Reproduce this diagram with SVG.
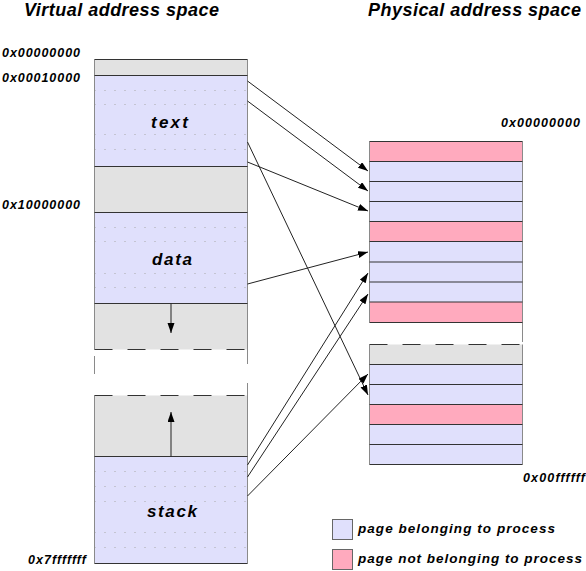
<svg xmlns="http://www.w3.org/2000/svg" width="586" height="571" viewBox="0 0 586 571">
<defs>
<style>
.t{font-family:"Liberation Sans",Arial,sans-serif;font-weight:bold;font-style:italic;fill:#000}
.title{font-size:18px}
.addr{font-size:12.5px}
.seg{font-size:17px}
.leg{font-size:13.5px}
.blue{fill:#e0e0fc}
.pink{fill:#ffaabe}
.gray{fill:#e2e2e2}
.vb{stroke:#8a8a8a;stroke-width:1;fill:none}
.hb{stroke:#333;stroke-width:1;fill:none}
.dash{stroke:#333;stroke-width:1;stroke-dasharray:18 15;fill:none}
.dots{stroke:#a8a8a8;stroke-width:1;stroke-dasharray:1 9;fill:none}
.conn{stroke:#222;stroke-width:1;fill:none;marker-end:url(#ah)}
</style>
<marker id="ah" markerUnits="userSpaceOnUse" markerWidth="11" markerHeight="8" refX="10" refY="3.5" orient="auto">
<path d="M0,0 L10,3.5 L0,7 z" fill="#000"/>
</marker>
</defs>
<rect width="586" height="571" fill="#fff"/>

<g id="titles">
<text class="t title" x="24" y="16" textLength="195" lengthAdjust="spacing">Virtual address space</text>
<text class="t title" x="368" y="16" textLength="213" lengthAdjust="spacing">Physical address space</text>
</g>

<g id="virtual-labels">
<text class="t addr" x="2" y="57" textLength="78" lengthAdjust="spacing">0x00000000</text>
<text class="t addr" x="2" y="82" textLength="78" lengthAdjust="spacing">0x00010000</text>
<text class="t addr" x="2" y="209" textLength="78" lengthAdjust="spacing">0x10000000</text>
<text class="t addr" x="28" y="564" textLength="58" lengthAdjust="spacing">0x7fffffff</text>
</g>

<g id="virtual-space">
<g id="v-reserved">
<rect class="gray" x="94.5" y="59.5" width="153" height="16"/>
</g>
<g id="v-text">
<rect class="blue" x="94.5" y="75.5" width="153" height="91"/>
<path class="dots" d="M94.5,90.5H247.5M94.5,104.5H247.5M94.5,134.5H247.5M94.5,149.5H247.5"/>
<text class="t seg" x="151" y="128" textLength="37" lengthAdjust="spacing">text</text>
</g>
<g id="v-gap">
<rect class="gray" x="94.5" y="166.5" width="153" height="46"/>
</g>
<g id="v-data">
<rect class="blue" x="94.5" y="212.5" width="153" height="91"/>
<path class="dots" d="M94.5,227.5H247.5M94.5,241.5H247.5M94.5,273.5H247.5M94.5,287.5H247.5"/>
<text class="t seg" x="152" y="265" textLength="40" lengthAdjust="spacing">data</text>
</g>
<g id="v-heap">
<rect class="gray" x="94.5" y="303.5" width="153" height="46"/>
</g>
<g id="v-stackgrow">
<rect class="gray" x="94.5" y="395.5" width="153" height="61"/>
</g>
<g id="v-stack">
<rect class="blue" x="94.5" y="456.5" width="153" height="107"/>
<path class="dots" d="M94.5,471.5H247.5M94.5,486.5H247.5M94.5,501.5H247.5M94.5,532.5H247.5M94.5,547.5H247.5"/>
<text class="t seg" x="147" y="517" textLength="50" lengthAdjust="spacing">stack</text>
</g>
<path class="vb" d="M94.5,59.5V349.5M94.5,356V374M94.5,395.5V563.5M247.5,59.5V364M247.5,383V563.5"/>
<path class="hb" d="M94.5,59.5H247.5M94.5,75.5H247.5M94.5,166.5H247.5M94.5,212.5H247.5M94.5,303.5H247.5M94.5,456.5H247.5M94.5,563.5H247.5"/>
<path class="dash" d="M94.5,349.5H247.5M94.5,395.5H247.5"/>
</g>

<g id="physical-labels">
<text class="t addr" x="501" y="127" textLength="79" lengthAdjust="spacing">0x00000000</text>
<text class="t addr" x="523" y="482" textLength="62" lengthAdjust="spacing">0x00ffffff</text>
</g>

<g id="physical-space">
<rect class="pink" x="369.5" y="141.5" width="153" height="20"/>
<rect class="blue" x="369.5" y="161.5" width="153" height="20"/>
<rect class="blue" x="369.5" y="181.5" width="153" height="20"/>
<rect class="blue" x="369.5" y="201.5" width="153" height="20"/>
<rect class="pink" x="369.5" y="221.5" width="153" height="20"/>
<rect class="blue" x="369.5" y="241.5" width="153" height="20.5"/>
<rect class="blue" x="369.5" y="262" width="153" height="20"/>
<rect class="blue" x="369.5" y="282" width="153" height="20"/>
<rect class="pink" x="369.5" y="302" width="153" height="20.5"/>
<rect class="gray" x="369.5" y="344.5" width="153" height="20"/>
<rect class="blue" x="369.5" y="364.5" width="153" height="20"/>
<rect class="blue" x="369.5" y="384.5" width="153" height="20"/>
<rect class="pink" x="369.5" y="404.5" width="153" height="20"/>
<rect class="blue" x="369.5" y="424.5" width="153" height="20"/>
<rect class="blue" x="369.5" y="444.5" width="153" height="20"/>
<path class="vb" d="M369.5,141.5V322.5M522.5,141.5V342M369.5,344.5V464.5M522.5,344.5V464.5"/>
<path class="hb" d="M369.5,141.5H522.5M369.5,161.5H522.5M369.5,181.5H522.5M369.5,201.5H522.5M369.5,221.5H522.5M369.5,241.5H522.5M369.5,262H522.5M369.5,282H522.5M369.5,302H522.5M369.5,322.5H522.5M369.5,364.5H522.5M369.5,384.5H522.5M369.5,404.5H522.5M369.5,424.5H522.5M369.5,444.5H522.5M369.5,464.5H522.5"/>
<path class="dash" d="M369.5,344.5H522.5"/>
</g>

<g id="connectors">
<path class="conn" d="M171,303.5V333"/>
<path class="conn" d="M171,456.5V412"/>
<path class="conn" d="M247.5,81 L368,171"/>
<path class="conn" d="M247.5,101 L368,191"/>
<path class="conn" d="M247.5,142 L368,395"/>
<path class="conn" d="M247.5,162 L368,211"/>
<path class="conn" d="M247.5,284 L368,252"/>
<path class="conn" d="M247.5,465 L368,273"/>
<path class="conn" d="M247.5,477 L368,294"/>
<path class="conn" d="M247.5,496 L368,374"/>
</g>

<g id="legend">
<g id="legend-own">
<rect class="blue" x="332.5" y="519.5" width="20" height="20" stroke="#666"/>
<text class="t leg" x="358" y="533" textLength="197" lengthAdjust="spacing">page belonging to process</text>
</g>
<g id="legend-other">
<rect class="pink" x="332.5" y="549.5" width="20" height="20" stroke="#666"/>
<text class="t leg" x="358" y="563" textLength="224" lengthAdjust="spacing">page not belonging to process</text>
</g>
</g>
</svg>
